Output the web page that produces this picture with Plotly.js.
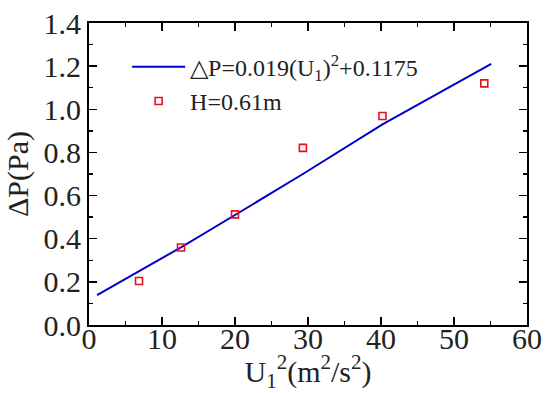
<!DOCTYPE html>
<html><head><meta charset="utf-8">
<script src="https://cdn.plot.ly/plotly-3.0.1.min.js"></script>
<style>html,body{margin:0;padding:0;background:#fff}#c{width:550px;height:393px}</style>
</head><body><div id="c"></div>
<script>
// fitted line (as drawn)
const fitX = [1.1, 12.6, 20.0, 29.3, 40.2, 55.1];
const fitY = [0.139, 0.360, 0.510, 0.700, 0.930, 1.210];
// measured points H=0.61m
const ptX = [6.85, 12.6, 20.0, 29.3, 40.2, 54.15];
const ptY = [0.204, 0.359, 0.513, 0.821, 0.969, 1.120];
const xTicks = [0, 10, 20, 30, 40, 50, 60];
const yTicks = [0.0, 0.2, 0.4, 0.6, 0.8, 1.0, 1.2, 1.4];
const yTickText = ['0.0','0.2','0.4','0.6','0.8','1.0','1.2','1.4'];

const font = '"Liberation Serif", "Times New Roman", serif';
const traces = [
  {x: fitX, y: fitY, mode: 'lines', name: '△P=0.019(U<sub>1</sub>)<sup>2</sup>+0.1175',
   line: {color: '#0000cc', width: 2}},
  {x: ptX, y: ptY, mode: 'markers', name: 'H=0.61m',
   marker: {symbol: 'square-open', size: 7, color: '#e8101c', line: {width: 1.6}}}
];
const axisCommon = {
  showgrid: false, zeroline: false, showline: true, linecolor: '#000', linewidth: 2,
  mirror: 'ticks', ticks: 'inside', ticklen: 8, tickwidth: 1.5, tickcolor: '#000',
  tickfont: {family: font, size: 30, color: '#222'}
};
const layout = {
  width: 550, height: 393,
  margin: {l: 89, r: 23, t: 23, b: 68},
  paper_bgcolor: '#fff', plot_bgcolor: '#fff',
  font: {family: font, color: '#222'},
  showlegend: true,
  legend: {x: 0.087, y: 0.928, xanchor: 'left', yanchor: 'top', bgcolor: 'rgba(0,0,0,0)',
    font: {family: font, size: 24, color: '#222'}, itemwidth: 53},
  xaxis: Object.assign({}, axisCommon, {
    range: [0, 60], tickvals: xTicks, ticktext: xTicks.map(String),
    ticklabelstandoff: -14,
    minor: {ticks: 'inside', ticklen: 4, tickwidth: 1.5, tickcolor: '#000', dtick: 5, tick0: 0},
    title: {text: 'U<sub>1</sub><sup>2</sup>(m<sup>2</sup>/s<sup>2</sup>)', font: {family: font, size: 30, color: '#222'}, standoff: 6}
  }),
  yaxis: Object.assign({}, axisCommon, {
    range: [0, 1.4], tickvals: yTicks, ticktext: yTickText,
    minor: {ticks: 'inside', ticklen: 4, tickwidth: 1.5, tickcolor: '#000', dtick: 0.1, tick0: 0},
    title: {text: 'ΔP(Pa)', font: {family: font, size: 30, color: '#222'}, standoff: 6}
  })
};
Plotly.newPlot('c', traces, layout, {displayModeBar: false, staticPlot: true});
</script></body></html>
